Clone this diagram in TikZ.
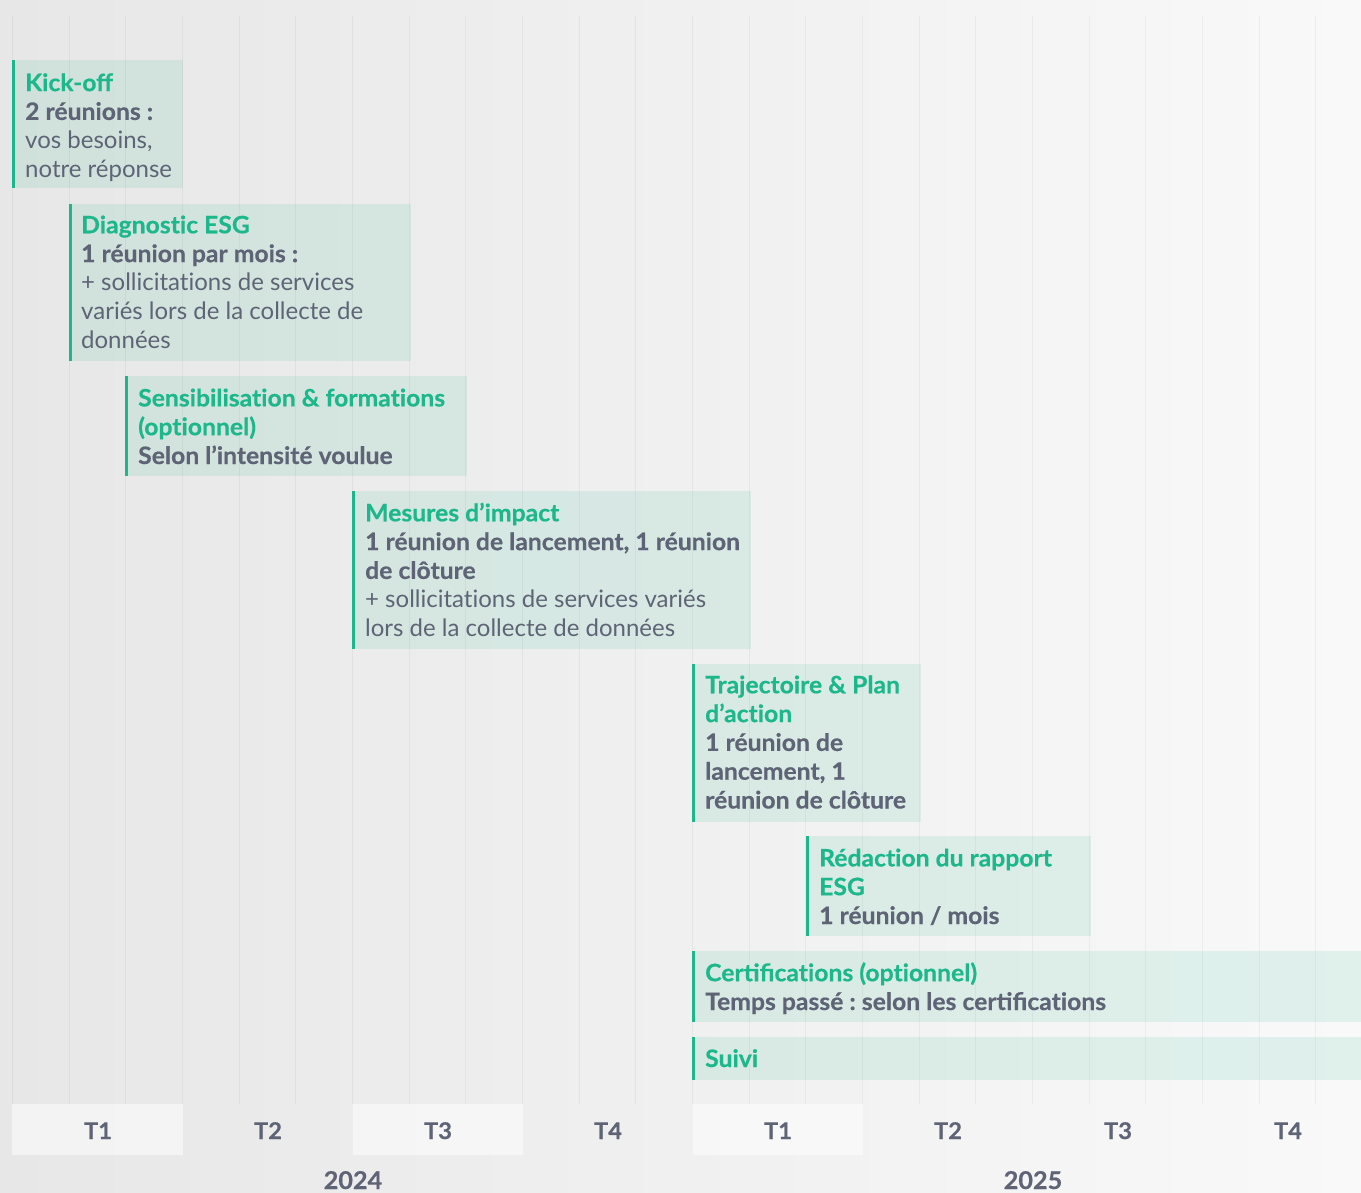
\documentclass[tikz,border=0pt]{standalone}
\usepackage{fontspec}
\setmainfont{Lato}[BoldFeatures={FakeStretch=1.03,FakeBold=0.5}]
\usetikzlibrary{calc}
\frenchspacing
\definecolor{esggreen}{HTML}{1CB88B}
\definecolor{esggray}{HTML}{5E6475}
\definecolor{bgleft}{HTML}{E7E7E7}
\definecolor{bgright}{HTML}{F9F9F9}
\tikzset{
  phasebox/.style={anchor=north west, inner sep=0pt, outer sep=0pt, fill=esggreen, fill opacity=0.11, draw=none},
  phasebar/.style={draw=esggreen, line width=3pt},
  phasetext/.style={anchor=base west, inner sep=0pt, align=left, text=esggray, font=\fontsize{24}{28.8}\selectfont},
  gridline/.style={draw=black, draw opacity=0.045, line width=1.2pt},
  qcell/.style={fill=white, fill opacity=0.5, draw=none},
  qlabel/.style={anchor=base, inner sep=0pt, text=esggray, font=\fontsize{23}{26}\selectfont\bfseries},
  ylabel/.style={anchor=base, inner sep=0pt, text=esggray, font=\fontsize{24.5}{28}\selectfont\bfseries},
}
\newcommand{\ttl}[1]{\textcolor{esggreen}{\textbf{#1}}}
\newcommand{\tI}{t\kern0pt i}
\begin{document}
\begin{tikzpicture}[x=1pt,y=-1pt]
\useasboundingbox (0,0) rectangle (1361,1193);
\shade[left color=bgleft, right color=bgright] (0,0) rectangle (1361,1193);
% grid
\foreach \k in {0,...,23} {
  \draw[gridline] ({12.5+56.667*\k},16) -- ({12.5+56.667*\k},1104);
}
% quarter cells
\fill[qcell] (12,1104) rectangle (183,1155);
\fill[qcell] (353,1104) rectangle (523,1155);
\fill[qcell] (693,1104) rectangle (863,1155);
% boxes
\node[phasebox, minimum width=171pt, minimum height=128pt] (kbox) at (12,60) {};
\node[phasebox, minimum width=342pt, minimum height=157pt] (dbox) at (69,204) {};
\node[phasebox, minimum width=342pt, minimum height=100pt] (sbox) at (125,376) {};
\node[phasebox, minimum width=399pt, minimum height=158pt] (mbox) at (352,491) {};
\node[phasebox, minimum width=229pt, minimum height=158pt] (tbox) at (692,664) {};
\node[phasebox, minimum width=285pt, minimum height=100pt] (rbox) at (806,836) {};
\node[phasebox, minimum width=669pt, minimum height=71pt] (cbox) at (692,951) {};
\node[phasebox, minimum width=669pt, minimum height=43pt] (vbox) at (692,1037) {};
\foreach \b in {kbox,dbox,sbox,mbox,tbox,rbox,cbox,vbox} {
  \draw[phasebar] ([xshift=1.5pt]\b.north west) -- ([xshift=1.5pt]\b.south west);
}
% texts (anchored at the baseline of their last line)
\node[phasetext] (ktxt) at (25,177.5) {\ttl{Kick-off}\\ \textbf{2 réunions :}\\ vos besoins,\\ notre réponse};
\node[phasetext] (dtxt) at (81,348.5) {\ttl{Diagnos\tI c ESG}\\ \textbf{1 réunion par mois :}\\ + sollicita\tI ons de services\\ variés lors de la collecte de\\ données};
\node[phasetext] (stxt) at (138,464) {\ttl{Sensibilisa\tI on \& forma\tI ons}\\ \ttl{(op\tI onnel)}\\ \textbf{Selon l’intensité voulue}};
\node[phasetext] (mtxt) at (365,636.5) {\ttl{Mesures d’impact}\\ \textbf{1 réunion de lancement, 1 réunion}\\ \textbf{de clôture}\\ + sollicita\tI ons de services variés\\ lors de la collecte de données};
\node[phasetext] (ttxt) at (705,808.5) {\ttl{Trajectoire \& Plan}\\ \ttl{d’ac\tI on}\\ \textbf{1 réunion de}\\ \textbf{lancement, 1}\\ \textbf{réunion de clôture}};
\node[phasetext] (rtxt) at (819,924) {\ttl{Rédac\tI on du rapport}\\ \ttl{ESG}\\ \textbf{1 réunion / mois}};
\node[phasetext] (ctxt) at (705,1010) {\ttl{Certifica\tI ons (op\tI onnel)}\\ \textbf{Temps passé : selon les certifica\tI ons}};
\node[phasetext] (vtxt) at (705,1067) {\ttl{Suivi}};
% axis labels
\node[qlabel] (q1a) at (98,1139) {T1};
\node[qlabel] (q2a) at (268,1139) {T2};
\node[qlabel] (q3a) at (438,1139) {T3};
\node[qlabel] (q4a) at (608,1139) {T4};
\node[qlabel] (q1b) at (778,1139) {T1};
\node[qlabel] (q2b) at (948,1139) {T2};
\node[qlabel] (q3b) at (1118,1139) {T3};
\node[qlabel] (q4b) at (1288,1139) {T4};
\node[ylabel] (y24) at (353,1189) {2024};
\node[ylabel] (y25) at (1033,1189) {2025};
\end{tikzpicture}
\end{document}
